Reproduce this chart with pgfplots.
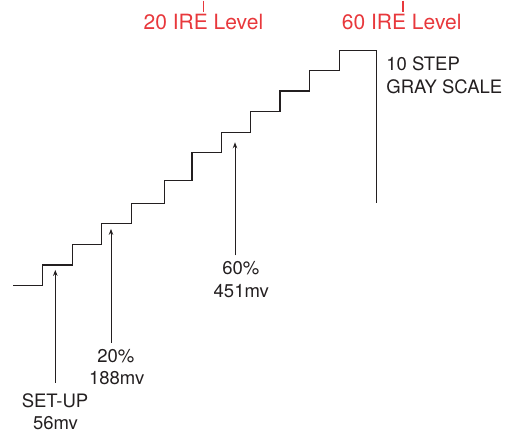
\documentclass[border=0pt]{standalone}
\usepackage{fontspec}
\setmainfont{TeX Gyre Heros}
\usepackage{pgfplots}
\pgfplotsset{compat=1.18}
\usetikzlibrary{arrows.meta}
\definecolor{irered}{RGB}{232,56,60}
\definecolor{ink}{RGB}{35,31,32}
\begin{document}
\begin{tikzpicture}
\begin{axis}[
  x=1pt, y=1pt,
  xmin=0, xmax=517, ymin=0, ymax=428,
  hide axis, clip=false,
  anchor=origin, at={(0,0)},
]
% staircase (y = 428 - pixel row)
\addplot[ink, line width=1.3pt, line join=miter] coordinates {
 (13,143) (42.7,143) (42.7,163.7) (72.7,163.7) (72.7,184.3) (101.7,184.3)
 (101.7,205) (131.7,205) (131.7,225) (164.3,225) (164.3,248.3) (192,248.3)
 (192,276) (221.3,276) (221.3,296.3) (250.7,296.3) (250.7,317) (280,317)
 (280,337.7) (309.7,337.7) (309.7,358) (339.7,358) (339.7,378) (376.3,378)
 (376.3,225.3)
};
% arrows
\addplot[ink, line width=1pt, -{Stealth[length=6pt,width=4.5pt]}] coordinates {(55.3,46) (55.3,158.7)};
\addplot[ink, line width=1pt, -{Stealth[length=6pt,width=4.5pt]}] coordinates {(111,85.7) (111,199.7)};
\addplot[ink, line width=1pt, -{Stealth[length=6pt,width=4.5pt]}] coordinates {(235,173.3) (235,286.3)};
% red level ticks
\addplot[irered, line width=1.2pt] coordinates {(203.3,428) (203.3,417)};
\addplot[irered, line width=1.2pt] coordinates {(403,428) (403,417)};
% labels
\node[irered, anchor=base, font=\fontsize{21}{25}\selectfont, inner sep=0pt] at (axis cs:203.4,399) {20 IRE Level};
\node[irered, anchor=base, font=\fontsize{21}{25}\selectfont, inner sep=0pt] at (axis cs:401.7,399) {60 IRE Level};
\node[ink, anchor=base west, font=\fontsize{18.5}{22}\selectfont, inner sep=0pt] at (axis cs:386.2,358) {10 STEP};
\node[ink, anchor=base west, font=\fontsize{18.5}{22}\selectfont, inner sep=0pt] at (axis cs:386.2,335.3) {GRAY SCALE};
\node[ink, anchor=base, font=\fontsize{18.5}{22}\selectfont, inner sep=0pt] at (axis cs:240.8,154) {60\%};
\node[ink, anchor=base, font=\fontsize{18.5}{22}\selectfont, inner sep=0pt] at (axis cs:241.3,130.7) {451mv};
\node[ink, anchor=base, font=\fontsize{18.5}{22}\selectfont, inner sep=0pt] at (axis cs:115.8,65.7) {20\%};
\node[ink, anchor=base, font=\fontsize{18.5}{22}\selectfont, inner sep=0pt] at (axis cs:116.7,43.7) {188mv};
\node[ink, anchor=base, font=\fontsize{18.5}{22}\selectfont, inner sep=0pt] at (axis cs:55,21.3) {SET-UP};
\node[ink, anchor=base, font=\fontsize{18.5}{22}\selectfont, inner sep=0pt] at (axis cs:55.5,-0.7) {56mv};
\end{axis}
\path[use as bounding box] (0,0) rectangle (517pt,428pt);
\end{tikzpicture}
\end{document}
